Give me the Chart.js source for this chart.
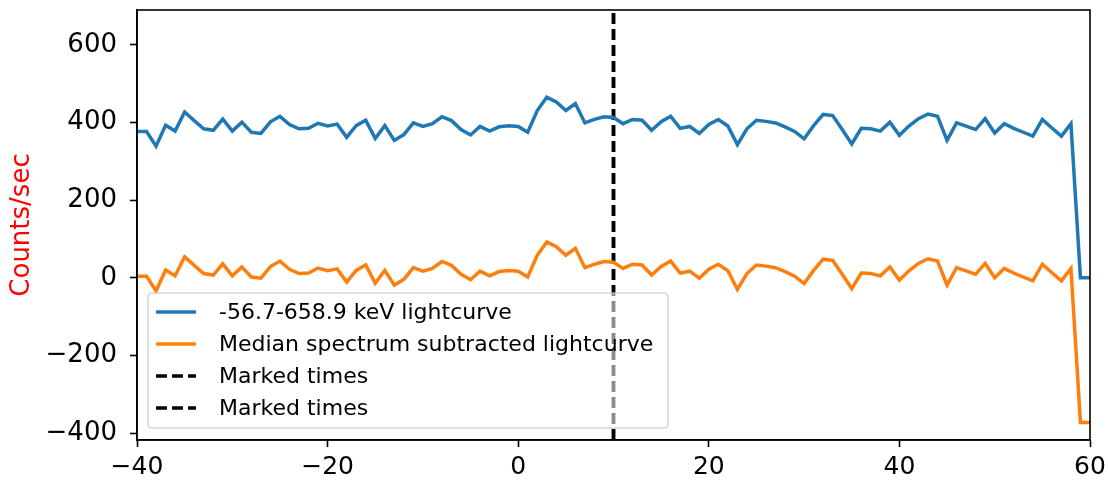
<!DOCTYPE html>
<html>
<head>
<meta charset="utf-8">
<script src="https://cdn.jsdelivr.net/npm/chart.js@4"></script>
<style>
  html, body { margin: 0; padding: 0; background: #fff; }
  #wrap { width: 1108px; height: 482px; }
</style>
</head>
<body>
<div id="wrap"><canvas id="lc"></canvas></div>
<script>
// time bins (s) relative to trigger
const times = [-40,-39,-38,-37,-36,-35,-34,-33,-32,-31,-30,-29,-28,-27,-26,-25,-24,-23,-22,-21,
  -20,-19,-18,-17,-16,-15,-14,-13,-12,-11,-10,-9,-8,-7,-6,-5,-4,-3,-2,-1,
  0,1,2,3,4,5,6,7,8,9,10,11,12,13,14,15,16,17,18,19,
  20,21,22,23,24,25,26,27,28,29,30,31,32,33,34,35,36,37,38,39,
  40,41,42,43,44,45,46,47,48,49,50,51,52,53,54,55,56,57,58,59,60];

// -56.7-658.9 keV lightcurve
const totalRate = [377,377,339,393,378,427,405,384,380,409,378,401,375,372,402,416,395,384,385,398,
  391,396,362,392,406,359,392,354,369,399,390,397,415,405,382,368,390,378,389,392,
  390,375,431,465,453,431,449,399,408,415,413,397,408,406,380,402,416,385,390,372,
  395,408,391,343,384,406,403,399,389,377,358,392,421,418,382,345,385,384,378,401,
  367,391,410,422,416,354,399,391,382,410,373,397,385,375,365,408,386,365,397,0,0];

// median spectrum subtracted
const subRate = [4,4,-34,20,5,54,32,11,7,36,5,28,2,-1,29,43,22,11,12,25,
  18,23,-11,19,33,-14,19,-19,-4,26,17,24,42,32,9,-5,17,5,16,19,
  17,2,58,92,80,58,76,26,35,42,40,24,35,33,7,29,43,12,17,-1,
  22,35,18,-30,11,33,30,26,16,4,-15,19,48,45,9,-28,12,11,5,28,
  -6,18,37,49,43,-19,26,18,9,37,0,24,12,2,-8,35,13,-8,24,-373,-373];

const markedTimes = [10, 10];

const xTicks = [-40, -20, 0, 20, 40, 60];
const yTicks = [-400, -200, 0, 200, 400, 600];
const yMin = -418, yMax = 690;

const font = 'DejaVu Sans';

const pts = (vals) => times.map((t, i) => ({ x: t, y: vals[i] }));

const datasets = [
  { label: '-56.7-658.9 keV lightcurve', data: pts(totalRate), borderColor: '#1f77b4', borderWidth: 3.5 },
  { label: 'Median spectrum subtracted lightcurve', data: pts(subRate), borderColor: '#ff7f0e', borderWidth: 3.5 }
];
markedTimes.forEach(t => {
  datasets.push({
    label: 'Marked times', data: [{ x: t, y: yMin }, { x: t, y: yMax }],
    borderColor: '#000', borderWidth: 3.5, borderDash: [11, 5]
  });
});

// box around the axes + matplotlib-like legend inside the plot
const frameAndLegend = {
  id: 'frameAndLegend',
  afterDraw(chart) {
    const { ctx, chartArea: a } = chart;
    ctx.save();
    ctx.strokeStyle = '#000';
    ctx.lineWidth = 1.6;
    ctx.strokeRect(a.left, a.top, a.right - a.left, a.bottom - a.top);

    const lx = a.left + 11, ly = a.bottom - 147, lw = 520, lh = 135;
    ctx.beginPath();
    ctx.roundRect(lx, ly, lw, lh, 4);
    ctx.fillStyle = 'rgba(255,255,255,0.55)';
    ctx.fill();
    ctx.strokeStyle = 'rgba(204,204,204,0.8)';
    ctx.lineWidth = 1.6;
    ctx.stroke();

    ctx.font = '22px "' + font + '"';
    ctx.textBaseline = 'middle';
    chart.data.datasets.forEach((ds, i) => {
      const cy = ly + 19 + i * 32;
      ctx.beginPath();
      ctx.setLineDash(ds.borderDash || []);
      ctx.strokeStyle = ds.borderColor;
      ctx.lineWidth = ds.borderWidth;
      ctx.moveTo(lx + 8, cy);
      ctx.lineTo(lx + 48, cy);
      ctx.stroke();
      ctx.setLineDash([]);
      ctx.fillStyle = '#000';
      ctx.fillText(ds.label, lx + 71, cy + 1);
    });
    ctx.restore();
  }
};

const fmt = v => String(v).replace('-', '\u2212');

new Chart(document.getElementById('lc'), {
  type: 'line',
  data: { datasets },
  options: {
    responsive: true,
    maintainAspectRatio: false,
    animation: false,
    layout: { padding: { left: 0, right: 18, top: 10, bottom: 0 } },
    elements: { point: { radius: 0 }, line: { tension: 0 } },
    plugins: { legend: { display: false }, tooltip: { enabled: false } },
    scales: {
      x: {
        type: 'linear', min: -40, max: 60,
        afterBuildTicks: s => { s.ticks = xTicks.map(v => ({ value: v })); },
        afterFit: s => { s.height = 42; s.paddingLeft = 0; s.paddingRight = 0; },
        grid: { drawOnChartArea: false, drawTicks: true, tickLength: 7, tickColor: '#000', tickWidth: 1.6 },
        border: { display: true, color: '#000', width: 1.6 },
        ticks: { color: '#000', font: { family: font, size: 25 }, padding: 5, maxRotation: 0, callback: fmt }
      },
      y: {
        type: 'linear', min: yMin, max: yMax,
        afterBuildTicks: s => { s.ticks = yTicks.map(v => ({ value: v })); },
        afterFit: s => { s.width = 137; s.paddingTop = 0; s.paddingBottom = 0; },
        grid: { drawOnChartArea: false, drawTicks: true, tickLength: 7, tickColor: '#000', tickWidth: 1.6 },
        border: { display: true, color: '#000', width: 1.6 },
        ticks: { color: '#000', font: { family: font, size: 26 }, padding: 13, callback: fmt },
        title: { display: true, text: 'Counts/sec', color: 'red', font: { family: font, size: 26 }, padding: { top: 7, bottom: 0 } }
      }
    }
  },
  plugins: [frameAndLegend]
});
</script>
</body>
</html>
